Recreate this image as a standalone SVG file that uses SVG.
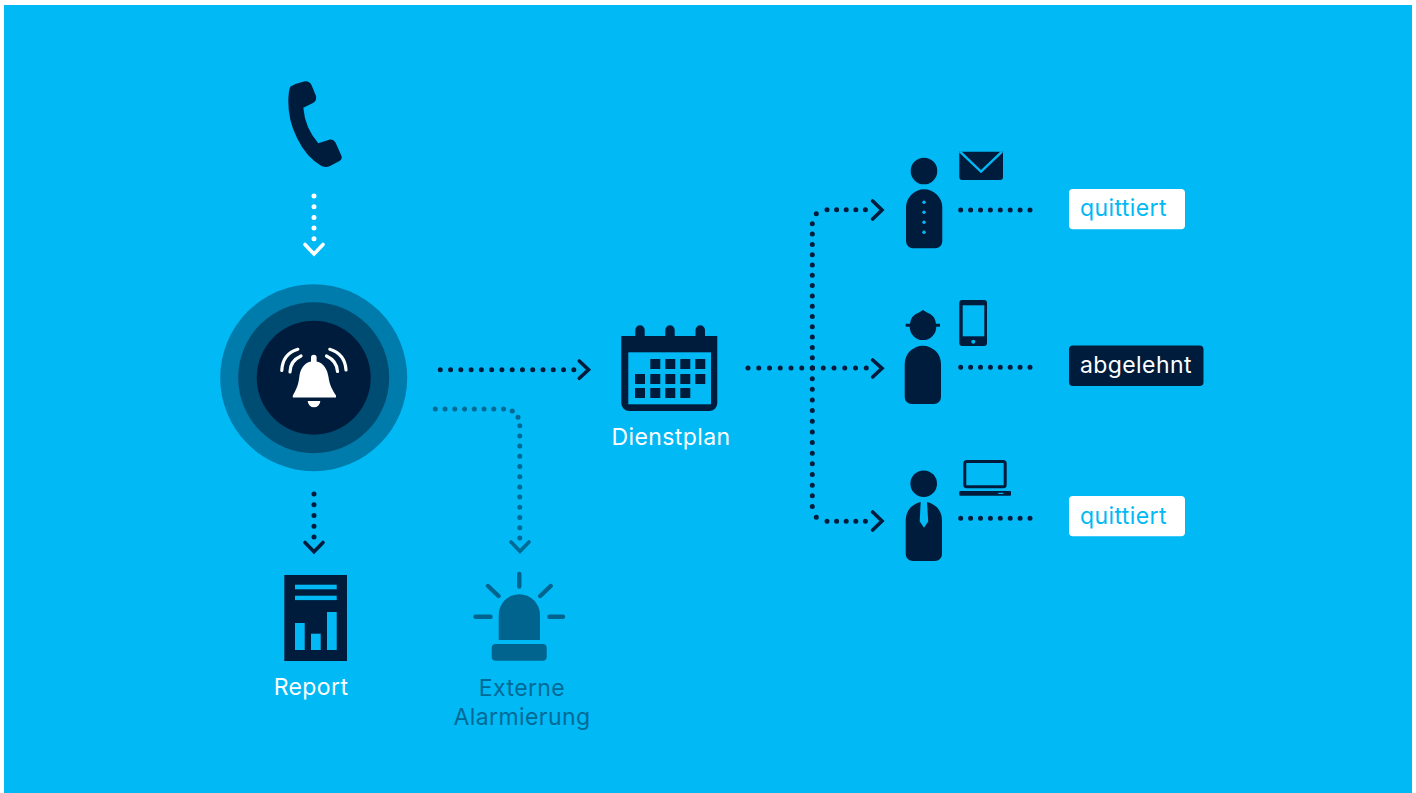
<svg xmlns="http://www.w3.org/2000/svg" width="1416" height="793" viewBox="0 0 1416 793">
<style>
.t{font-family:Inter,"Noto Sans","Liberation Sans",sans-serif;font-size:23px;font-weight:400;letter-spacing:.4px}
.dot{fill:none;stroke-width:5;stroke-linecap:round}
.chev{fill:none;stroke-width:3.6;stroke-linecap:round;stroke-linejoin:miter}
.d{stroke:#001C3D}.w{stroke:#fff}.x{stroke:#006A96}
.n{fill:#001C3D}.b{fill:#00B9F5}
</style>
<rect width="1416" height="793" fill="#fff"/>
<rect x="4" y="5" width="1408" height="788" fill="#00B9F5"/>
<g id="connectors">
<path class="dot w" stroke-dasharray="0 10.7" d="M314 196V240"/>
<path class="chev w" d="M305 244.500L314 254L323 244.500"/>
<path class="dot d" stroke-dasharray="0 10.75" d="M314 494V538"/>
<path class="chev d" d="M305 542.500L314 551.700L323 542.500"/>
<path class="dot x" stroke-dasharray="0 9.75" d="M435.300 409H504"/>
<path class="dot x" stroke-dasharray="0 10.2" d="M512.300 411h.01M518 417.300h.01M519.800 425.700V538"/>
<path class="chev x" d="M511 542L520 551.300L529 542"/>
<path class="dot d" stroke-dasharray="0 10.27" d="M440.300 369.700H575"/>
<path class="chev d" d="M579.300 361L588.500 369.700L579.300 378.300"/>
<path class="dot d" stroke-dasharray="0 10.75" d="M748 368H867"/>
<path class="dot d" stroke-dasharray="0 10.3" d="M812.300 368V223M816.300 213.700h.01"/>
<path class="dot d" stroke-dasharray="0 10.65" d="M812.300 368V507M816.300 517.300h.01"/>
<path class="dot d" stroke-dasharray="0 9.6" d="M827 209.700H866M827 521.300H866"/>
<path class="chev d" d="M872.700 201L882 210L872.700 219M872.700 360L882 368.300L872.700 377M872.700 512L882 521L872.700 530"/>
<path class="dot d" stroke-dasharray="0 9.9" d="M960.700 210H1031M960.700 367.300H1031M960.700 518.300H1031"/>
</g>
<g id="phone">
<path class="n" d="M290.500 86.500Q297 83 304 81.500Q309 80.500 311.500 85L316 96Q317 101 313 103L303.300 107.700Q305 128 318.300 143.300L330 139.500Q333.500 139 335.500 142.500L341.500 156Q342.500 159 339.500 161L330 166Q326 168 321.500 166Q306 157 297 138Q288 120 288.300 101Q288.500 90 290.500 86.500Z"/>
</g>
<g id="alarm">
<circle cx="313.700" cy="377.700" r="93.500" fill="#007CAC"/>
<circle cx="313.700" cy="377.700" r="75.500" fill="#004D73"/>
<circle cx="313.700" cy="377.700" r="57" fill="#001C3D"/>
<path fill="#fff" d="M311 361.500V357.500A2.800 2.800 0 0 1 316.600 357.500V361.500C324 363 327.500 370 328.500 377C329.500 385 332.500 390 336 395.500V397.500H292.800V395.500C296 390 298.500 385 299.300 377C300 370 303.500 363 311 361.500Z"/>
<path fill="#fff" d="M307.700 401H320.300A6.300 6.300 0 0 1 307.700 401Z"/>
<g fill="none" stroke="#fff" stroke-width="3.200" stroke-linecap="round">
<path d="M281.800 370.500Q282.500 354 297.800 349.300M290 372Q290 361 301 356M346 370Q345 354 329.800 349.300M337.500 371.500Q337 361 326.500 356"/>
</g>
</g>
<g id="report">
<rect class="n" x="284.300" y="575" width="62.700" height="86"/>
<rect class="b" x="295" y="584.700" width="41.700" height="4.600"/>
<rect class="b" x="295" y="595.700" width="41.700" height="4.400"/>
<rect class="b" x="295" y="623" width="9.700" height="27"/>
<rect class="b" x="311" y="633.700" width="9.700" height="16.300"/>
<rect class="b" x="327" y="612" width="9.700" height="38"/>
<text class="t" x="311" y="695" fill="#fff" text-anchor="middle">Report</text>
</g>
<g id="siren">
<path fill="#00648F" d="M498.700 640V614.800A20.650 20.500 0 0 1 540 614.800V640Z"/>
<rect x="491.700" y="644" width="55" height="16.700" rx="4" fill="#00648F"/>
<path fill="none" stroke="#00648F" stroke-width="4.400" stroke-linecap="round" d="M519.300 574V586.500M488 586L498.500 596M550.700 586L540.200 596M475.500 616.700H490.500M549.500 616.700H563"/>
<text class="t" x="522" y="696" fill="#006A96" text-anchor="middle">Externe</text>
<text class="t" x="522" y="725" fill="#006A96" text-anchor="middle">Alarmierung</text>
</g>
<g id="dienstplan">
<path class="n" d="M621.300 336H635.300V330A4.700 4.700 0 0 1 644.700 330V336H665.300V330A4.700 4.700 0 0 1 674.700 330V336H695.500V330A4.700 4.700 0 0 1 705 330V336H717.300V403A8 8 0 0 1 709.300 411H629.300A8 8 0 0 1 621.300 403Z"/>
<rect class="b" x="628.300" y="352.300" width="82.700" height="52"/>
<path class="n" d="M650.300 359h10v10h-10zM665.300 359h10v10h-10zM680.300 359h10v10h-10zM695.300 359h10v10h-10zM635 374h10v10h-10zM650.300 374h10v10h-10zM665.300 374h10v10h-10zM680.300 374h10v10h-10zM695.300 374h10v10h-10zM635 388h10v10h-10zM650.300 388h10v10h-10zM665.300 388h10v10h-10zM680.300 388h10v10h-10z"/>
<text class="t" x="671" y="445" fill="#fff" text-anchor="middle">Dienstplan</text>
</g>
<g id="person-mail">
<circle class="n" cx="924" cy="171" r="13.300"/>
<path class="n" d="M906 207.500A18.150 18.150 0 0 1 942.300 207.500V241.300A7 7 0 0 1 935.300 248.300H913A7 7 0 0 1 906 241.300Z"/>
<g class="b"><circle cx="924" cy="202.300" r="1.700"/><circle cx="924" cy="212.300" r="1.700"/><circle cx="924" cy="222.300" r="1.700"/><circle cx="924" cy="232.300" r="1.700"/></g>
<path class="n" d="M959.300 151.700H1003V177A3 3 0 0 1 1000 180H962.300A3 3 0 0 1 959.300 177Z"/>
<path fill="none" stroke="#00B9F5" stroke-width="2.400" d="M960 151.700L981 171.700L1002 151.700"/>
</g>
<g id="person-phone">
<path class="n" d="M923 310L927 312.500A13.300 13.300 0 0 1 936 323.800H940V326.800H936.300A13.300 13.300 0 1 1 909.700 326.800H905.700V323.800H910A13.300 13.300 0 0 1 919 312.500Z"/>
<path class="n" d="M904.700 363.900A18.150 18.150 0 0 1 941 363.900V397A7 7 0 0 1 934 404H911.700A7 7 0 0 1 904.700 397Z"/>
<rect class="n" x="959.300" y="300" width="27.700" height="46" rx="3"/>
<rect class="b" x="962.700" y="305.300" width="21.600" height="31"/>
<circle class="b" cx="973.300" cy="341.700" r="2"/>
</g>
<g id="person-laptop">
<circle class="n" cx="923.700" cy="483.700" r="13.300"/>
<path class="n" d="M905.700 519.900A18.150 18.150 0 0 1 942 519.900V554A7 7 0 0 1 935 561H912.700A7 7 0 0 1 905.700 554Z"/>
<path class="b" d="M920.700 501H927L928.200 521.500L924 527.800L919.700 521.500Z"/>
<rect x="964.800" y="461.500" width="40.400" height="25.300" rx="2" fill="none" stroke="#001C3D" stroke-width="3"/>
<rect class="n" x="959.300" y="491" width="51.700" height="4.700" rx="1"/>
<rect class="b" x="998.300" y="492.800" width="5" height="1.200"/>
</g>
<g id="tag-1">
<rect x="1069" y="189" width="116" height="40.300" rx="4" fill="#fff"/>
<text class="t" x="1080" y="216" fill="#00B9F5">quittiert</text>
</g>
<g id="tag-2">
<rect x="1069" y="345.500" width="134.500" height="40.500" rx="4" fill="#001C3D"/>
<text class="t" x="1080" y="373" fill="#fff">abgelehnt</text>
</g>
<g id="tag-3">
<rect x="1069" y="496" width="116" height="40.300" rx="4" fill="#fff"/>
<text class="t" x="1080" y="523.500" fill="#00B9F5">quittiert</text>
</g>
</svg>
